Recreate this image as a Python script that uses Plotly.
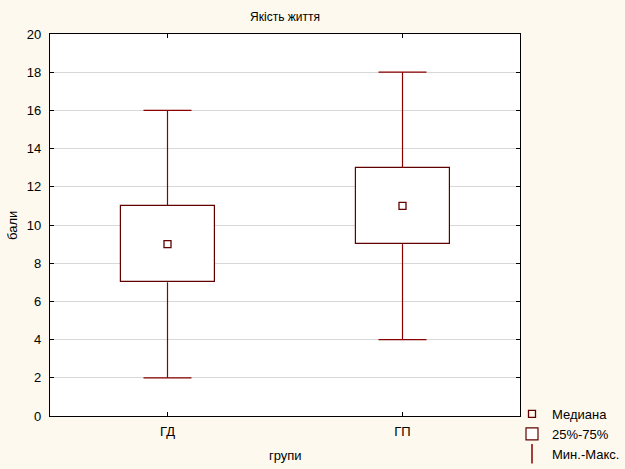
import plotly.graph_objects as go

groups = ["ГД", "ГП"]
mins = [2, 4]
q1s = [7, 9]
medians = [9, 11]
q3s = [11, 13]
maxs = [16, 18]

title = "Якість життя"
x_title = "групи"
y_title = "бали"
legend_names = ["Медиана", "25%-75%", "Мин.-Макс."]

W, H = 625, 469
L, R, T, B = 50, 520, 34, 416  # plot area in px

box_col = "#600000"
wh_col = "#880000"
pos = list(range(len(groups)))

fig = go.Figure()

fig.add_trace(go.Scatter(
    x=pos, y=medians, mode="markers", name=legend_names[0],
    marker=dict(symbol="square-open", size=7, color=box_col, line=dict(width=1.3, color=box_col)),
))

fig.add_trace(go.Bar(
    x=pos, y=[b - a for a, b in zip(q1s, q3s)], base=q1s, width=0.4,
    name=legend_names[1],
    marker=dict(color="white", line=dict(color=box_col, width=1.2)),
))

# whisker stems (no caps)
fig.add_trace(go.Scatter(
    x=pos + pos, y=q3s + q1s, mode="markers", showlegend=False, hoverinfo="skip",
    marker=dict(size=0.1, color="rgba(0,0,0,0)"),
    error_y=dict(type="data", symmetric=False,
                 array=[m - q for q, m in zip(q3s, maxs)] + [0] * len(pos),
                 arrayminus=[0] * len(pos) + [q - m for q, m in zip(q1s, mins)],
                 color=wh_col, thickness=1.2, width=0),
))
# whisker caps at min and max
fig.add_trace(go.Scatter(
    x=pos + pos, y=maxs + mins, mode="markers", showlegend=False, hoverinfo="skip",
    marker=dict(size=0.1, color="rgba(0,0,0,0)"),
    error_y=dict(type="data", array=[0] * (2 * len(pos)), color=wh_col, thickness=1.2, width=24),
))
fig.add_trace(go.Scatter(
    x=[None], y=[None], mode="markers", name=legend_names[2],
    marker=dict(symbol="line-ns-open", size=14, color=wh_col, line=dict(width=1.5, color=wh_col)),
))

fig.update_layout(
    width=W, height=H,
    margin=dict(l=0, r=0, t=0, b=0, autoexpand=False),
    paper_bgcolor="#FEF9EE",
    plot_bgcolor="white",
    font=dict(family="Liberation Sans, Arial, sans-serif", size=13, color="black"),
    title=dict(text=title, x=(L + R) / 2 / W, xanchor="center", y=1 - 17 / H, yanchor="middle",
               font=dict(size=12)),
    showlegend=True,
    legend=dict(x=512 / W, xanchor="left", y=0, yanchor="bottom", bgcolor="rgba(0,0,0,0)",
                font=dict(size=13), tracegroupgap=0, itemwidth=30, traceorder="normal"),
    bargap=0,
    annotations=[
        dict(text=x_title, xref="paper", yref="paper", x=(L + R) / 2 / W, y=1 - 455 / H,
             showarrow=False, xanchor="center", yanchor="middle", font=dict(size=13)),
        dict(text=y_title, xref="paper", yref="paper", x=12 / W, y=1 - 225 / H, textangle=-90,
             showarrow=False, xanchor="center", yanchor="middle", font=dict(size=13)),
    ],
)

fig.update_xaxes(
    domain=[L / W, R / W], automargin=False,
    range=[-0.5, 1.5], tickvals=pos, ticktext=groups,
    showline=True, linecolor="black", linewidth=1.3, mirror="ticks",
    ticks="inside", ticklen=4, tickcolor="black", showgrid=False, zeroline=False,
    tickfont=dict(size=13), ticklabelstandoff=3,
)
fig.update_yaxes(
    domain=[1 - B / H, 1 - T / H], automargin=False,
    range=[0, 20], dtick=2,
    showline=True, linecolor="black", linewidth=1.3, mirror="ticks",
    ticks="inside", ticklen=4, tickcolor="black",
    showgrid=True, gridcolor="#D8D8D8", gridwidth=1, zeroline=False,
    tickfont=dict(size=13), ticklabelstandoff=5,
)

fig.write_html("out.html", config={"displayModeBar": False},
               post_script="document.body.style.margin='0px';document.body.style.overflow='hidden';")
